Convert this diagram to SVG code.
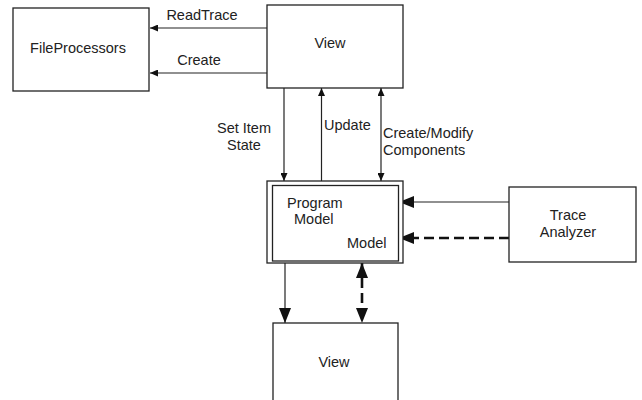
<svg xmlns="http://www.w3.org/2000/svg" width="642" height="400" viewBox="0 0 642 400">
  <style>
    .box { fill: #ffffff; stroke: #222222; stroke-width: 1.3; }
    .lbl { font-family: "Liberation Sans", Arial, sans-serif; font-size: 14.5px; fill: #222222; }
    .mid { text-anchor: middle; }
    .ln { fill: none; stroke: #222222; stroke-width: 1.2; }
    .dash { fill: none; stroke: #111111; stroke-width: 2.6; stroke-dasharray: 10 5; }
  </style>
  <defs>
    <marker id="arrSmall" markerUnits="userSpaceOnUse" viewBox="0 0 8 7" refX="8" refY="3.5" markerWidth="8" markerHeight="7" orient="auto-start-reverse">
      <path d="M0,0 L8,3.5 L0,7 z" fill="#111111"/>
    </marker>
    <marker id="arrLarge" markerUnits="userSpaceOnUse" viewBox="0 0 15 12" refX="15" refY="6" markerWidth="15" markerHeight="12" orient="auto-start-reverse">
      <path d="M0,0 L15,6 L0,12 z" fill="#111111"/>
    </marker>
  </defs>

  <g id="connectors">
    <!-- View -> FileProcessors -->
    <line class="ln" x1="267" y1="28" x2="150" y2="28" marker-end="url(#arrSmall)"/>
    <line class="ln" x1="267" y1="73" x2="150" y2="73" marker-end="url(#arrSmall)"/>
    <!-- View <-> Program Model -->
    <line class="ln" x1="284" y1="88" x2="284" y2="181" marker-end="url(#arrSmall)"/>
    <line class="ln" x1="321.5" y1="181" x2="321.5" y2="88" marker-end="url(#arrSmall)"/>
    <line class="ln" x1="381" y1="88" x2="381" y2="181" marker-start="url(#arrSmall)" marker-end="url(#arrSmall)"/>
    <!-- Trace Analyzer -> Model -->
    <line class="ln" x1="509" y1="202" x2="399" y2="202" marker-end="url(#arrLarge)"/>
    <line class="dash" x1="509" y1="238" x2="399" y2="238" marker-end="url(#arrLarge)"/>
    <!-- Model -> lower View -->
    <line class="ln" x1="285" y1="260" x2="285" y2="323" marker-end="url(#arrLarge)"/>
    <line class="dash" x1="362" y1="263" x2="362" y2="323" marker-start="url(#arrLarge)" marker-end="url(#arrLarge)"/>

    <text class="lbl mid" x="202" y="20">ReadTrace</text>
    <text class="lbl mid" x="199" y="65">Create</text>
    <text class="lbl mid" x="244" y="133">Set Item</text>
    <text class="lbl mid" x="244" y="150">State</text>
    <text class="lbl" x="324" y="130">Update</text>
    <text class="lbl" x="383" y="138">Create/Modify</text>
    <text class="lbl" x="383" y="155">Components</text>
  </g>

  <g id="fileProcessors">
    <rect class="box" x="13" y="8" width="136" height="83"/>
    <text class="lbl mid" x="78" y="53">FileProcessors</text>
  </g>

  <g id="viewTop">
    <rect class="box" x="267" y="5" width="136" height="83"/>
    <text class="lbl mid" x="330" y="48">View</text>
  </g>

  <g id="programModel">
    <rect class="box" x="267" y="181" width="136" height="82"/>
    <rect class="box" x="272.5" y="185.5" width="126" height="75.5"/>
    <text class="lbl" x="287" y="208">Program</text>
    <text class="lbl" x="294" y="224">Model</text>
    <text class="lbl" x="347" y="248">Model</text>
  </g>

  <g id="traceAnalyzer">
    <rect class="box" x="509" y="187" width="127" height="75"/>
    <text class="lbl mid" x="568" y="220">Trace</text>
    <text class="lbl mid" x="568" y="237">Analyzer</text>
  </g>

  <g id="viewBottom">
    <rect class="box" x="273" y="323" width="125" height="82"/>
    <text class="lbl mid" x="334" y="367">View</text>
  </g>
</svg>
